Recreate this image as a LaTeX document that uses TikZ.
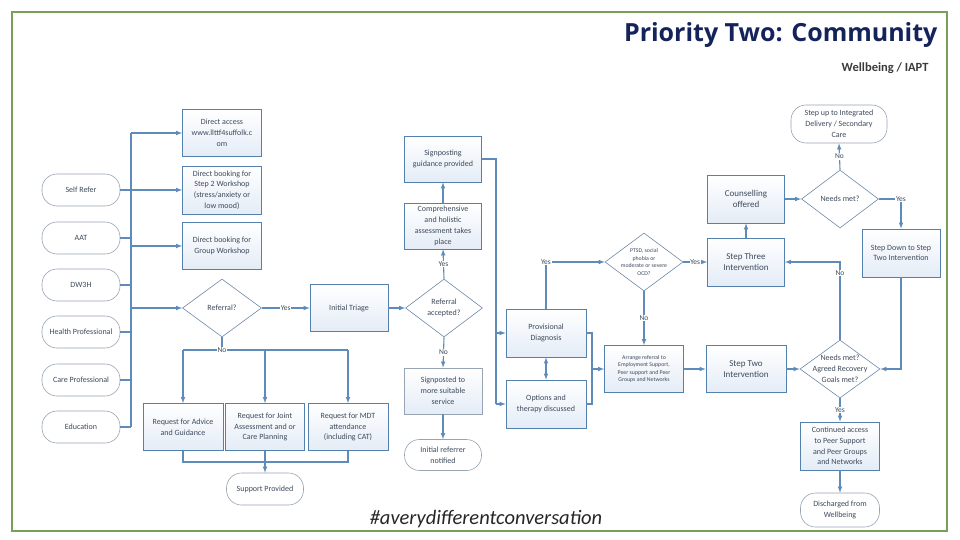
\documentclass[tikz,border=0pt]{standalone}
\usepackage{fontspec}
\setmainfont{Carlito}
\newfontfamily\titlefont{Open Sans}
\usetikzlibrary{shapes.geometric}
\definecolor{framecol}{HTML}{78A155}
\definecolor{boxline}{HTML}{5480AE}
\definecolor{boxfill}{HTML}{E4ECF6}
\definecolor{termline}{HTML}{98A4B4}
\definecolor{dialine}{HTML}{6E88A8}
\definecolor{linkcol}{HTML}{5F8BBB}
\definecolor{txt}{HTML}{3E4A5C}
\definecolor{titlecol}{HTML}{14235A}
\definecolor{subcol}{HTML}{3A3A3A}

\begin{document}
\begin{tikzpicture}[x=1pt,y=-1pt,>=latex,
		box/.style={draw=boxline,line width=0.7pt,top color=white,bottom color=boxfill,minimum width=79pt,minimum height=47pt,inner sep=1pt,align=center,font=\fontsize{8}{10.8}\selectfont,text=txt},
		term/.style={draw=termline,line width=0.6pt,fill=white,rounded corners=15pt,minimum width=78pt,minimum height=32pt,inner sep=1pt,align=center,font=\fontsize{8}{10.8}\selectfont,text=txt},
		decision/.style={diamond,draw=dialine,line width=0.6pt,fill=white,minimum width=78pt,minimum height=58pt,inner sep=0pt},
		dtext/.style={align=center,inner sep=0pt,font=\fontsize{8}{10.8}\selectfont,text=txt},
		link/.style={draw=linkcol,line width=1.1pt},
		lbl/.style={fill=white,inner sep=0.8pt,font=\fontsize{7.5}{8}\selectfont,text=txt}]
	\useasboundingbox (0,0) rectangle (960,540);
	\draw[framecol,line width=1.8pt] (12,12) rectangle (947,531);

	\node[anchor=east,font=\titlefont\bfseries\fontsize{25}{28}\selectfont,text=titlecol] (title) at (941,35) {Priority Two: Community};
	\node[anchor=east,font=\bfseries\fontsize{12.5}{14}\selectfont,text=subcol] (subtitle) at (932,68) {Wellbeing / IAPT};
	\node[font=\itshape\fontsize{20.5}{23}\selectfont,text=black!85] (hashtag) at (486,519) {\#averydifferentconversation};

	\node[term] (selfrefer) at (81,190) {Self Refer};
	\node[term] (aat) at (81,238) {AAT};
	\node[term] (dw3h) at (81,285) {DW3H};
	\node[term] (healthpro) at (81,332) {Health Professional};
	\node[term] (carepro) at (81,380) {Care Professional};
	\node[term] (education) at (81,427) {Education};

	\node[box] (direct) at (222,133) {Direct access\\www.llttf4suffolk.c\\om};
	\node[box,minimum height=48pt] (stepws) at (222,190) {Direct booking for\\Step 2 Workshop\\(stress/anxiety or\\low mood)};
	\node[box] (groupws) at (222,246) {Direct booking for\\Group Workshop};
	\node[decision,minimum width=79pt,label={[dtext]center:Referral?}] (referral) at (222,308) {};
	\node[box,minimum width=78pt] (triage) at (349,308) {Initial Triage};
	\node[box,minimum width=80pt] (advice) at (183,427) {Request for Advice\\and Guidance};
	\node[box] (joint) at (265,427) {Request for Joint\\Assessment and or\\Care Planning};
	\node[box,minimum width=80pt] (mdt) at (348,427) {Request for MDT\\attendance\\(including CAT)};
	\node[term,minimum width=77pt] (support) at (265,489) {Support Provided};

	\node[box,minimum width=77pt,minimum height=46pt] (signpost) at (443,159) {Signposting\\guidance provided};
	\node[box,minimum width=77pt,minimum height=46pt] (compre) at (443,226) {Comprehensive\\and holistic\\assessment takes\\place};
	\node[decision,minimum width=77pt,label={[dtext]center:Referral\\accepted?}] (accepted) at (444,308) {};
	\node[box,draw=termline,minimum width=78pt,minimum height=46pt] (signposted) at (443,391) {Signposted to\\more suitable\\service};
	\node[term,minimum width=77pt,minimum height=31pt] (notified) at (443,455) {Initial referrer\\notified};

	\node[box,minimum width=80pt,minimum height=48pt] (provisional) at (546,333) {Provisional\\Diagnosis};
	\node[box,minimum width=80pt,minimum height=48pt] (options) at (546,404) {Options and\\therapy discussed};
	\node[decision,label={[dtext,font=\fontsize{5.8}{7.5}\selectfont]center:PTSD, social\\phobia or\\moderate or severe\\OCD?}] (ptsd) at (644,262) {};
	\node[box,font=\fontsize{5.8}{7.5}\selectfont] (arrange) at (644,369) {Arrange referral to\\Employment Support,\\Peer support and Peer\\Groups and Networks};

	\node[box,minimum width=77pt,minimum height=48pt,font=\fontsize{9}{11.5}\selectfont] (counselling) at (746,199) {Counselling\\offered};
	\node[box,minimum width=77pt,minimum height=48pt,font=\fontsize{9}{11.5}\selectfont] (stepthree) at (746,262) {Step Three\\Intervention};
	\node[box,minimum width=80pt,minimum height=47pt,font=\fontsize{9}{11.5}\selectfont] (steptwo) at (746,369) {Step Two\\Intervention};

	\node[term,minimum width=96pt,minimum height=38pt] (stepup) at (839,124) {Step up to Integrated\\Delivery / Secondary\\Care};
	\node[decision,minimum width=77pt,label={[dtext]center:Needs met?}] (needsmet) at (840,199) {};
	\node[box,minimum width=78pt,minimum height=48pt] (stepdown) at (901,253) {Step Down to Step\\Two Intervention};
	\node[decision,minimum width=80pt,label={[dtext]center:Needs met?\\Agreed Recovery\\Goals met?}] (recovery) at (840,369) {};
	\node[box,minimum width=79pt,minimum height=48pt] (continued) at (840,446) {Continued access\\to Peer Support\\and Peer Groups\\and Networks};
	\node[term,minimum width=79pt,minimum height=34pt] (discharged) at (840,510) {Discharged from\\Wellbeing};

	\coordinate (trunktop) at (131,133);
	\coordinate (trunkbot) at (131,427);
	\draw[link] (trunktop) -- (trunkbot);
	\foreach \src in {selfrefer,aat,dw3h,healthpro,carepro,education}
		\draw[link] (\src.east) -- (\src.east -| trunktop);
	\foreach \dst in {direct,stepws,groupws,referral}
		\draw[link,->] (\dst.west -| trunktop) -- (\dst.west);

	\draw[link,->] (referral.east) -- node[lbl]{Yes} (triage.west);
	\coordinate (nosplit) at (222,350);
	\draw[link] (referral.south) -- (nosplit);
	\draw[link] (advice.north |- nosplit) -- (mdt.north |- nosplit);
	\node[lbl] (nolbl) at (nosplit) {No};
	\foreach \dst in {advice,joint,mdt}
		\draw[link,->] (\dst.north |- nosplit) -- (\dst.north);
	\coordinate (join) at (265,462);
	\draw[link] (advice.south) -- (advice.south |- join) -- (mdt.south |- join) -- (mdt.south);
	\draw[link,->] (joint.south) -- (support.north);

	\draw[link,->] (triage.east) -- (accepted.west);
	\draw[link,->] (accepted.north) -- node[lbl]{Yes} (compre.south);
	\draw[link,->] (compre.north) -- (signpost.south);
	\draw[link,->] (accepted.south) -- node[lbl]{No} (signposted.north);
	\draw[link,->] (signposted.south) -- (notified.north);

	\coordinate (trunkmid) at (496,159);
	\draw[link] (signpost.east) -- (trunkmid) -- (trunkmid |- options.west);
	\draw[link,->] (trunkmid |- provisional.west) -- (provisional.west);
	\draw[link,->] (trunkmid |- options.west) -- (options.west);
	\draw[link,<->] (provisional.south) -- (options.north);
	\draw[link,->] (provisional.north) |- node[lbl,pos=0.5]{Yes} (ptsd.west);
	\coordinate (bracket) at (592,333);
	\draw[link] (provisional.east) -- (provisional.east -| bracket) -- (options.east -| bracket) -- (options.east);
	\draw[link,->] (arrange.west -| bracket) -- (arrange.west);

	\draw[link,->] (ptsd.east) -- node[lbl]{Yes} (stepthree.west);
	\draw[link,->] (ptsd.south) -- node[lbl]{No} (arrange.north);
	\draw[link,->] (stepthree.north) -- (counselling.south);
	\draw[link,->] (arrange.east) -- (steptwo.west);
	\draw[link,->] (counselling.east) -- (needsmet.west);
	\draw[link,->] (steptwo.east) -- (recovery.west);
	\draw[link,->] (needsmet.north) -- node[lbl]{No} (stepup.south);
	\draw[link,->] (needsmet.east) -| node[lbl,pos=0.5]{Yes} (stepdown.north);
	\draw[link,->] (stepdown.south) |- (recovery.east);
	\draw[link,->] (recovery.north) |- node[lbl,pos=0.43]{No} (stepthree.east);
	\draw[link,->] (recovery.south) -- node[lbl]{Yes} (continued.north);
	\draw[link,->] (continued.south) -- (discharged.north);
\end{tikzpicture}
\end{document}
